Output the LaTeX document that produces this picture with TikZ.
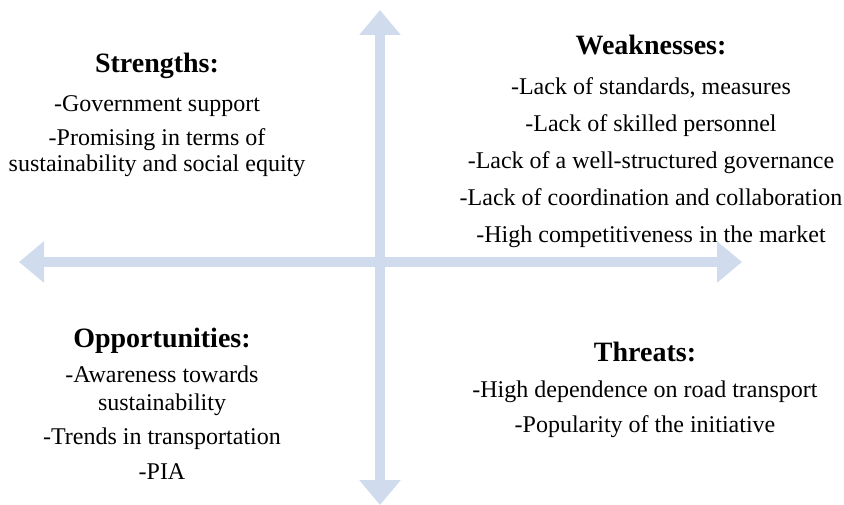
\documentclass[tikz,border=0pt]{standalone}
\usepackage{fontspec}
\setmainfont{Liberation Serif}
\usepackage{tikz}
\usetikzlibrary{arrows.meta,positioning}
\definecolor{axisblue}{RGB}{208,220,238}
\tikzset{
    %Define style for the two axes
    axis/.style={
           draw=axisblue,
           line width=10pt,
           {Triangle[length=25pt,width=40pt]}-{Triangle[length=25pt,width=40pt]}},
    %Define style for headings
    head/.style={
           anchor=base,
           inner sep=0pt,
           font=\fontsize{28}{32}\selectfont\bfseries},
    %Define style for text lines
    ln/.style={
           anchor=base,
           inner sep=0pt,
           font=\fontsize{24}{28}\selectfont}
}
\begin{document}
\begin{tikzpicture}[x=1pt,y=-1pt]
\useasboundingbox (0,0) rectangle (844,505);
 %axes
\coordinate (top) at (380,10);
\coordinate (bottom) at (380,505);
\coordinate (left) at (19,262);
\coordinate (right) at (742,262);
\draw[axis] (top) -- (bottom);
\draw[axis] (left) -- (right);
 %strengths
\node[head] (s) at (157,73) {Strengths:};
\node[ln, below=39pt of s.base, anchor=base] (s1) {-Government support};
\node[ln, below=34pt of s1.base, anchor=base] (s2) {-Promising in terms of};
\node[ln, below=26pt of s2.base, anchor=base] (s3) {sustainability and social equity};
 %weaknesses
\node[head] (w) at (651,55) {Weaknesses:};
\node[ln, below=40pt of w.base, anchor=base] (w1) {-Lack of standards, measures};
\node[ln, below=37pt of w1.base, anchor=base] (w2) {-Lack of skilled personnel};
\node[ln, below=37pt of w2.base, anchor=base] (w3) {-Lack of a well-structured governance};
\node[ln, below=37pt of w3.base, anchor=base] (w4) {-Lack of coordination and collaboration};
\node[ln, below=37pt of w4.base, anchor=base] (w5) {-High competitiveness in the market};
 %opportunities
\node[head] (o) at (162,347) {Opportunities:};
\node[ln, below=35pt of o.base, anchor=base] (o1) {-Awareness towards};
\node[ln, below=28pt of o1.base, anchor=base] (o2) {sustainability};
\node[ln, below=34pt of o2.base, anchor=base] (o3) {-Trends in transportation};
\node[ln, below=35pt of o3.base, anchor=base] (o4) {-PIA};
 %threats
\node[head] (t) at (645,361) {Threats:};
\node[ln, below=36pt of t.base, anchor=base] (t1) {-High dependence on road transport};
\node[ln, below=35pt of t1.base, anchor=base] (t2) {-Popularity of the initiative};
\end{tikzpicture}
\end{document}
